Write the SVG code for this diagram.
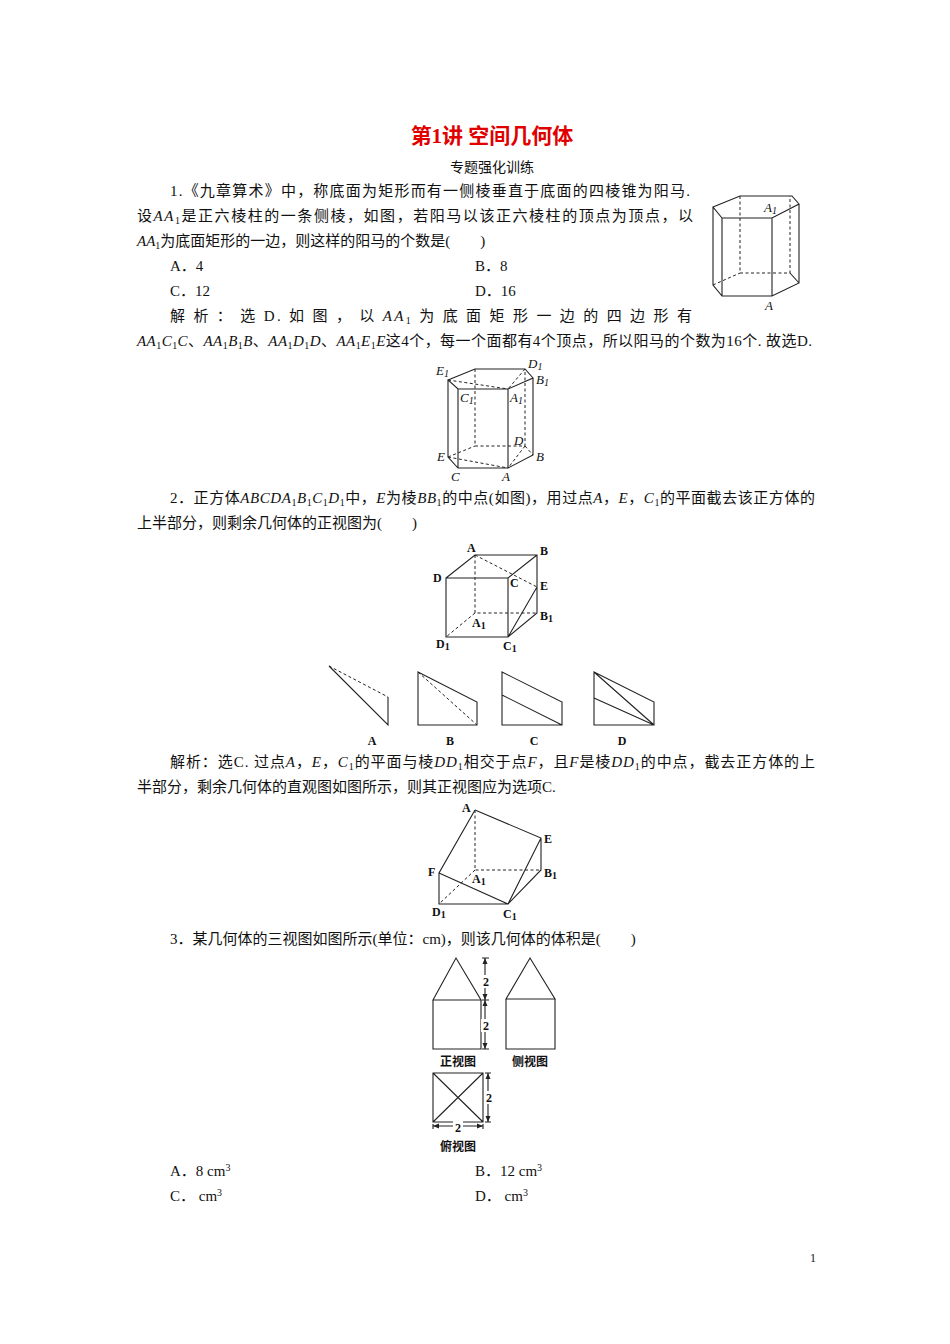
<svg xmlns="http://www.w3.org/2000/svg" width="950" height="1344" viewBox="0 0 950 1344">
<style>
text{font-family:"Liberation Serif","Noto Sans CJK SC",serif;font-size:15px;fill:#111}
.t{font-size:13px;font-style:italic}
.s{font-size:10px}
.l{fill:none;stroke:#222;stroke-width:1.1}
.d{fill:none;stroke:#222;stroke-width:1;stroke-dasharray:3,2.5}
.lab{font-size:12px;font-weight:bold}
</style>
<rect width="950" height="1344" fill="#fff"/>
<text x="492" y="143" text-anchor="middle" style="font-size:21px;font-weight:bold;fill:#e00000">第1讲  空间几何体</text>
<text x="492" y="172" text-anchor="middle" style="font-size:14px">专题强化训练</text>
<text x="170" y="196" textLength="520" lengthAdjust="spacing">1.《九章算术》中，称底面为矩形而有一侧棱垂直于底面的四棱锥为阳马.</text>
<text x="137" y="221" textLength="556" lengthAdjust="spacing">设<tspan font-style="italic">AA</tspan><tspan class="s" dy="3">1</tspan><tspan dy="-3">是正六棱柱的一条侧棱，如图，若阳马以该正六棱柱的顶点为顶点，以</tspan></text>
<text x="137" y="246"><tspan font-style="italic">AA</tspan><tspan class="s" dy="3">1</tspan><tspan dy="-3">为底面矩形的一边，则这样的阳马的个数是(　　)</tspan></text>
<text x="170" y="271">A．4</text><text x="475" y="271">B．8</text>
<text x="170" y="296">C．12</text><text x="475" y="296">D．16</text>
<text x="170" y="321" textLength="522" lengthAdjust="spacing">解 析 ： 选 D. 如 图 ， 以 <tspan font-style="italic">AA</tspan><tspan class="s" dy="3">1</tspan><tspan dy="-3"> 为 底 面 矩 形 一 边 的 四 边 形 有</tspan></text>
<text x="137" y="346" textLength="675" lengthAdjust="spacing"><tspan font-style="italic">AA</tspan><tspan class="s" dy="3">1</tspan><tspan dy="-3" font-style="italic">C</tspan><tspan class="s" dy="3">1</tspan><tspan dy="-3" font-style="italic">C</tspan><tspan>、</tspan><tspan font-style="italic">AA</tspan><tspan class="s" dy="3">1</tspan><tspan dy="-3" font-style="italic">B</tspan><tspan class="s" dy="3">1</tspan><tspan dy="-3" font-style="italic">B</tspan><tspan>、</tspan><tspan font-style="italic">AA</tspan><tspan class="s" dy="3">1</tspan><tspan dy="-3" font-style="italic">D</tspan><tspan class="s" dy="3">1</tspan><tspan dy="-3" font-style="italic">D</tspan><tspan>、</tspan><tspan font-style="italic">AA</tspan><tspan class="s" dy="3">1</tspan><tspan dy="-3" font-style="italic">E</tspan><tspan class="s" dy="3">1</tspan><tspan dy="-3" font-style="italic">E</tspan><tspan>这4个，每一个面都有4个顶点，所以阳马的个数为16个. 故选D.</tspan></text>

<g id="prism1">
<path class="l" d="M713,207 L740,196 L792,196 L799,204 L772,218 L722,218 Z M713,207 V285 L722,296 H772 L799,283 V204 M722,218 V296 M772,218 V296 M790,273 L799,283"/>
<path class="d" d="M740,196 V273 H790 V196 M713,285 L740,273"/>
<text class="t" x="764" y="212">A<tspan class="s" dy="2">1</tspan></text>
<text class="t" x="765" y="310">A</text>
</g>

<g id="prism2">
<path class="l" d="M448,380 L475,369 H525 L533,378 L508,389 H458 Z M448,380 V457 L458,468 H508 L533,455 V378 M458,389 V468 M508,389 V468"/>
<path class="d" d="M475,369 V446 H525 V369 M448,380 L508,389 M525,369 L508,389 M448,457 L475,446 M448,457 L508,468 M525,446 L508,468 M525,446 L533,455"/>
<text class="t" x="436" y="375">E<tspan class="s" dy="2">1</tspan></text>
<text class="t" x="528" y="368">D<tspan class="s" dy="2">1</tspan></text>
<text class="t" x="536" y="384">B<tspan class="s" dy="2">1</tspan></text>
<text class="t" x="460" y="402">C<tspan class="s" dy="2">1</tspan></text>
<text class="t" x="510" y="402">A<tspan class="s" dy="2">1</tspan></text>
<text class="t" x="514" y="445">D</text>
<text class="t" x="437" y="461">E</text>
<text class="t" x="536" y="461">B</text>
<text class="t" x="451" y="481">C</text>
<text class="t" x="502" y="481">A</text>
</g>

<text x="170" y="503" textLength="645" lengthAdjust="spacing">2．正方体<tspan font-style="italic">ABCDA</tspan><tspan class="s" dy="3">1</tspan><tspan dy="-3" font-style="italic">B</tspan><tspan class="s" dy="3">1</tspan><tspan dy="-3" font-style="italic">C</tspan><tspan class="s" dy="3">1</tspan><tspan dy="-3" font-style="italic">D</tspan><tspan class="s" dy="3">1</tspan><tspan dy="-3">中，</tspan><tspan font-style="italic">E</tspan><tspan>为棱</tspan><tspan font-style="italic">BB</tspan><tspan class="s" dy="3">1</tspan><tspan dy="-3">的中点(如图)，用过点</tspan><tspan font-style="italic">A</tspan><tspan>，</tspan><tspan font-style="italic">E</tspan><tspan>，</tspan><tspan font-style="italic">C</tspan><tspan class="s" dy="3">1</tspan><tspan dy="-3">的平面截去该正方体的</tspan></text>
<text x="137" y="528">上半部分，则剩余几何体的正视图为(　　)</text>

<g id="cube">
<path class="l" d="M446,578 L475,555 H537 V613 L508,637 H446 Z M446,578 H508 L537,555 M508,578 V637 M508,637 L537,587"/>
<path class="d" d="M475,555 V613 H537 M475,613 L446,637 M475,555 L537,587"/>
<text class="lab" x="467" y="552">A</text>
<text class="lab" x="540" y="555">B</text>
<text class="lab" x="433" y="582">D</text>
<text class="lab" x="510" y="587">C</text>
<text class="lab" x="540" y="590">E</text>
<text class="lab" x="472" y="627">A<tspan class="s" dy="2">1</tspan></text>
<text class="lab" x="540" y="620">B<tspan class="s" dy="2">1</tspan></text>
<text class="lab" x="436" y="648">D<tspan class="s" dy="2">1</tspan></text>
<text class="lab" x="503" y="650">C<tspan class="s" dy="2">1</tspan></text>
</g>

<g id="optA"><path class="d" d="M329,666 L388,697"/><path class="l" d="M329,666 L388,725 V697"/><text class="lab" x="372" y="745" text-anchor="middle">A</text></g>
<g id="optB"><path class="l" d="M418,672 L477,702 V725 H418 Z"/><path class="d" d="M418,672 L477,725"/><text class="lab" x="450" y="745" text-anchor="middle">B</text></g>
<g id="optC"><path class="l" d="M502,672 L562,702 V725 H502 Z M502,695 L562,725"/><text class="lab" x="534" y="745" text-anchor="middle">C</text></g>
<g id="optD"><path class="l" d="M594,672 L654,702 V725 H594 Z M594,698 L654,725 M594,672 L654,725"/><text class="lab" x="622" y="745" text-anchor="middle">D</text></g>

<text x="170" y="767" textLength="645" lengthAdjust="spacing">解析：选C. 过点<tspan font-style="italic">A</tspan><tspan>，</tspan><tspan font-style="italic">E</tspan><tspan>，</tspan><tspan font-style="italic">C</tspan><tspan class="s" dy="3">1</tspan><tspan dy="-3">的平面与棱</tspan><tspan font-style="italic">DD</tspan><tspan class="s" dy="3">1</tspan><tspan dy="-3">相交于点</tspan><tspan font-style="italic">F</tspan><tspan>，且</tspan><tspan font-style="italic">F</tspan><tspan>是棱</tspan><tspan font-style="italic">DD</tspan><tspan class="s" dy="3">1</tspan><tspan dy="-3">的中点，截去正方体的上</tspan></text>
<text x="137" y="792">半部分，剩余几何体的直观图如图所示，则其正视图应为选项C.</text>

<g id="cut">
<path class="l" d="M475,810 L541,838 V870 L508,904 H439 V873 L475,810 M439,873 L508,904 L541,838"/>
<path class="d" d="M475,810 V870 H541 M475,870 L439,904"/>
<text class="lab" x="462" y="812">A</text>
<text class="lab" x="544" y="843">E</text>
<text class="lab" x="428" y="876">F</text>
<text class="lab" x="472" y="883">A<tspan class="s" dy="2">1</tspan></text>
<text class="lab" x="544" y="877">B<tspan class="s" dy="2">1</tspan></text>
<text class="lab" x="432" y="916">D<tspan class="s" dy="2">1</tspan></text>
<text class="lab" x="503" y="918">C<tspan class="s" dy="2">1</tspan></text>
</g>

<text x="170" y="944">3．某几何体的三视图如图所示(单位：cm)，则该几何体的体积是(　　)</text>

<g id="front">
<path class="l" d="M433,1000 L456,958 L481,1000 Z M433,1000 V1049 H481 V1000"/>
<path class="l" d="M482,958 H489 M482,1000 H489 M485,958 V1000 M485,1000 V1049 M482,1049 H489"/>
<path fill="#222" d="M485,958 l-2.5,6 h5 Z M485,1000 l-2.5,-6 h5 Z M485,1000 l-2.5,6 h5 Z M485,1049 l-2.5,-6 h5 Z"/>
<rect x="481" y="975" width="9" height="13" fill="#fff"/><text class="lab" x="486" y="986" text-anchor="middle">2</text>
<rect x="481" y="1019" width="9" height="13" fill="#fff"/><text class="lab" x="486" y="1030" text-anchor="middle">2</text>
<text class="lab" x="458" y="1066" text-anchor="middle">正视图</text>
</g>
<g id="side">
<path class="l" d="M506,999 L530,958 L555,999 Z M506,999 V1049 H555 V999"/>
<text class="lab" x="530" y="1066" text-anchor="middle">侧视图</text>
</g>
<g id="top">
<path class="l" d="M433,1073 H483 V1122 H433 Z M433,1073 L483,1122 M483,1073 L433,1122"/>
<path class="l" d="M485,1073 H491 M488,1073 V1122 M485,1122 H491 M433,1124 V1129 M483,1124 V1129 M433,1126 H483"/>
<path fill="#222" d="M488,1073 l-2.5,6 h5 Z M488,1122 l-2.5,-6 h5 Z M433,1126 l6,-2.5 v5 Z M483,1126 l-6,-2.5 v5 Z"/>
<rect x="484" y="1091" width="9" height="13" fill="#fff"/><text class="lab" x="489" y="1102" text-anchor="middle">2</text>
<rect x="453" y="1121" width="10" height="11" fill="#fff"/><text class="lab" x="458" y="1132" text-anchor="middle">2</text>
<text class="lab" x="458" y="1151" text-anchor="middle">俯视图</text>
</g>

<text x="170" y="1176">A．8 cm<tspan class="s" dy="-5">3</tspan></text>
<text x="475" y="1176">B．12 cm<tspan class="s" dy="-5">3</tspan></text>
<text x="170" y="1201">C．  cm<tspan class="s" dy="-5">3</tspan></text>
<text x="475" y="1201">D．  cm<tspan class="s" dy="-5">3</tspan></text>
<text x="810" y="1262" style="font-size:12px">1</text>
</svg>
